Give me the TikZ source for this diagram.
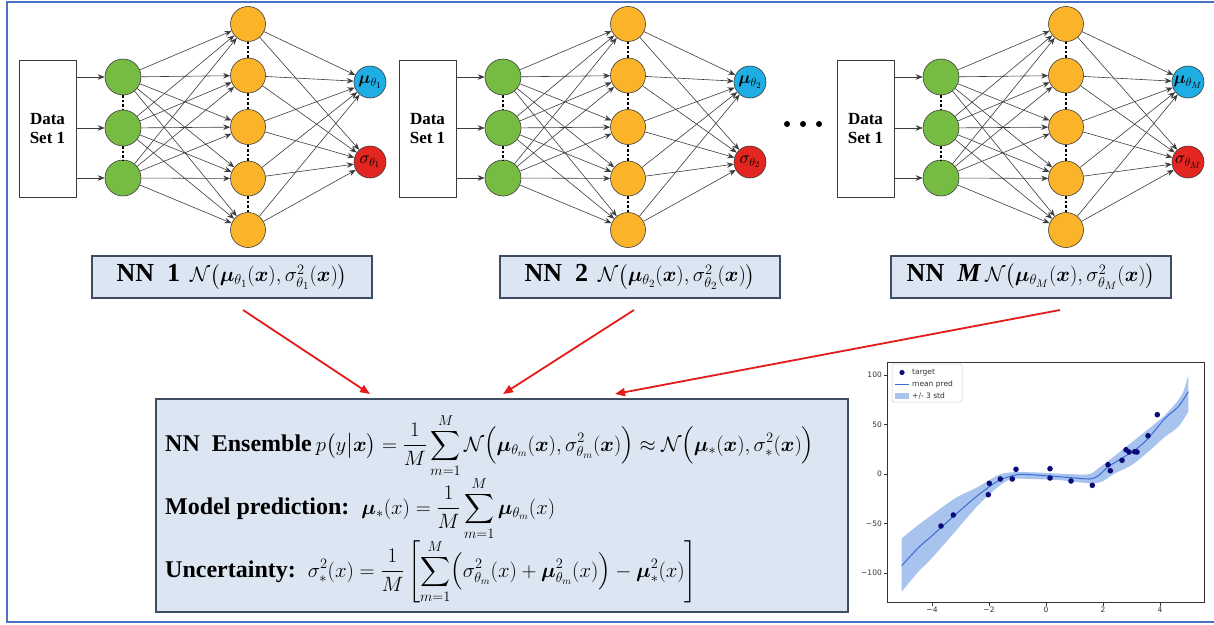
\documentclass[tikz,border=0pt]{standalone}
\usepackage{amsmath,bm}
\usepackage{fontspec}
\setmainfont{Liberation Serif}
\setsansfont{DejaVu Sans}
\usetikzlibrary{arrows.meta}
\definecolor{gfill}{HTML}{76BC43}
\definecolor{ofill}{HTML}{FBB42A}
\definecolor{bfill}{HTML}{1FAEE3}
\definecolor{rfill}{HTML}{E3261F}
\definecolor{boxfill}{HTML}{DCE6F2}
\definecolor{boxline}{HTML}{3F4D63}
\definecolor{frameblue}{HTML}{4A72C4}
\definecolor{edgec}{HTML}{3C3C3C}
\definecolor{navyc}{HTML}{0B0B78}
\definecolor{bandc}{HTML}{A8C3EE}
\definecolor{meanc}{HTML}{3B6BD6}
\definecolor{redarrow}{HTML}{E31B1B}
\definecolor{tickc}{HTML}{333333}
\tikzset{
  neuron/.style={circle, draw=edgec, line width=0.6pt, minimum size=35pt, inner sep=0pt},
  conn/.style={draw=edgec, line width=0.6pt, -{Stealth[length=7pt,width=5.5pt]}},
  dotcol/.style={line width=2.6pt, dash pattern=on 2.6pt off 1.8pt},
  databox/.style={draw=edgec, fill=white, line width=0.8pt, minimum width=57pt, minimum height=137pt, inner sep=0pt, font=\fontsize{17}{19}\selectfont\bfseries, align=center},
  nnbox/.style={draw=boxline, fill=boxfill, line width=1.2pt, minimum width=280pt, minimum height=42pt, inner sep=0pt},
  redarr/.style={draw=redarrow, line width=1.8pt, -{Triangle[length=10pt,width=8pt]}},
  outlbl/.style={font=\fontsize{18}{18}\selectfont},
  ticklbl/.style={font=\sffamily\fontsize{7.5}{8}\selectfont, text=tickc, inner sep=1pt},
  eqline/.style={anchor=base west, inner sep=0pt, font=\fontsize{24}{26}\selectfont},
}
\newcommand\eqm[1]{{\fontsize{20}{22}\selectfont$\displaystyle #1$}}
\newcommand\nnm[1]{{\fontsize{22}{24}\selectfont$#1$}}
\newcommand\drawnet[3]{%
  \begin{scope}[xshift=#2pt]
    \node[databox] (#1d) at (47.5,128.5) {Data\\Set 1};
    \foreach \i/\yy in {1/77,2/128,3/178}
      \node[neuron, fill=gfill, minimum size=36pt] (#1g\i) at (123,\yy) {};
    \foreach \j/\yy in {1/24,2/75.5,3/127,4/178.5,5/230}
      \node[neuron, fill=ofill] (#1h\j) at (248,\yy) {};
    \node[neuron, fill=bfill, minimum size=32pt, outlbl] (#1mu) at (370,82) {$\boldsymbol{\mu}_{\theta_{#3}}$};
    \node[neuron, fill=rfill, minimum size=32pt, outlbl] (#1sg) at (370,162) {$\sigma_{\theta_{#3}}$};
  \end{scope}
  \foreach \i in {1,2,3} \draw[conn] (#1d.east |- #1g\i) -- (#1g\i.west);
  \foreach \i in {1,2,3} \foreach \j in {1,...,5} \draw[conn] (#1g\i) -- (#1h\j);
  \foreach \j in {1,...,5} {\draw[conn] (#1h\j) -- (#1mu); \draw[conn] (#1h\j) -- (#1sg);}
  \draw[dotcol] (#1g1.south) -- (#1g2.north);
  \draw[dotcol] (#1g2.south) -- (#1g3.north);
  \draw[dotcol] (#1h1.south) -- (#1h2.north);
  \draw[dotcol] (#1h2.south) -- (#1h3.north);
  \draw[dotcol] (#1h3.south) -- (#1h4.north);
  \draw[dotcol] (#1h4.south) -- (#1h5.north);
}
\begin{document}
\begin{tikzpicture}[x=1pt, y=-1pt]
\useasboundingbox (0,0) rectangle (1214,624);
\fill[white] (0,0) rectangle (1214,624);
% networks
\drawnet{a}{0}{1}
\drawnet{b}{380}{2}
\drawnet{c}{818}{M}
% ellipsis dots
\foreach \xx in {787,803,819} \fill (\xx,124) circle (3pt);
% NN boxes
\node[nnbox] (nn1) at (232,277) {{\fontsize{26}{28}\selectfont\bfseries NN\enspace 1}\quad\nnm{\mathcal{N}\bigl(\boldsymbol{\mu}_{\theta_1}(\boldsymbol{x}),\sigma^2_{\theta_1}(\boldsymbol{x})\bigr)}};
\node[nnbox] (nn2) at (640,277) {{\fontsize{26}{28}\selectfont\bfseries NN\enspace 2}\quad\nnm{\mathcal{N}\bigl(\boldsymbol{\mu}_{\theta_2}(\boldsymbol{x}),\sigma^2_{\theta_2}(\boldsymbol{x})\bigr)}};
\node[nnbox] (nnM) at (1031,277) {{\fontsize{26}{28}\selectfont\bfseries NN\enspace\itshape M}\enspace\nnm{\mathcal{N}\bigl(\boldsymbol{\mu}_{\theta_M}(\boldsymbol{x}),\sigma^2_{\theta_M}(\boldsymbol{x})\bigr)}};
% ensemble box
\node[draw=boxline, fill=boxfill, line width=1.2pt, minimum width=692pt, minimum height=213pt, inner sep=0pt] (ens) at (502,505.5) {};
\node[eqline] (l1) at (165,451) {\textbf{NN\enspace Ensemble}\,\eqm{p\bigl(y\big|\boldsymbol{x}\bigr)=\frac{1}{M}\sum_{m=1}^{M}\mathcal{N}\Bigl(\boldsymbol{\mu}_{\theta_m}(\boldsymbol{x}),\sigma^2_{\theta_m}(\boldsymbol{x})\Bigr)\approx\mathcal{N}\Bigl(\boldsymbol{\mu}_{*}(\boldsymbol{x}),\sigma^2_{*}(\boldsymbol{x})\Bigr)}};
\node[eqline] (l2) at (165,514) {\textbf{Model prediction:}\enspace\eqm{\boldsymbol{\mu}_*(x)=\frac{1}{M}\sum_{m=1}^{M}\boldsymbol{\mu}_{\theta_m}(x)}};
\node[eqline] (l3) at (165,577) {\textbf{Uncertainty:}\enspace\eqm{\sigma^2_*(x)=\frac{1}{M}\left[\sum_{m=1}^{M}\Bigl(\sigma^2_{\theta_m}(x)+\boldsymbol{\mu}^2_{\theta_m}(x)\Bigr)-\boldsymbol{\mu}^2_*(x)\right]}};
% red arrows
\coordinate (s1) at (243,310); \coordinate (t1) at (370,394);
\coordinate (s2) at (634,310); \coordinate (t2) at (503,394);
\coordinate (s3) at (1060,310); \coordinate (t3) at (615,394);
\draw[redarr] (s1) -- (t1);
\draw[redarr] (s2) -- (t2);
\draw[redarr] (s3) -- (t3);
% plot
\fill[bandc] plot[smooth] coordinates {(901.7,538.3) (918.3,525) (931.7,515) (955,498.3) (978.3,486.7) (998.3,475) (1011.7,472.3) (1031.7,472.3) (1061.7,473.7) (1088.3,474.3) (1098.3,468.3) (1111.7,458.3) (1128.3,445) (1145,431.7) (1165,415) (1181.7,395) (1188.3,375)}
  -- plot[smooth] coordinates {(1188.3,411.7) (1178.3,426.7) (1165,436.7) (1148.3,451.7) (1131.7,465) (1115,473.3) (1101.7,481.7) (1090,483.3) (1061.7,480.3) (1031.7,479) (1011.7,479) (998.3,486.7) (978.3,505) (955,531.7) (931.7,558.3) (918.3,571.7) (901.7,591.7)} -- cycle;
\draw[meanc, line width=1pt] plot[smooth] coordinates {(901.7,565.7) (918.3,547.7) (931.7,536.0) (955.0,515.0) (978.3,495.0) (998.3,480.7) (1011.7,476.0) (1021.7,474.3) (1045.0,475.7) (1071.7,477.7) (1090.0,479.0) (1098.3,475.7) (1108.3,466.7) (1121.7,458.3) (1135.0,450.0) (1148.3,438.3) (1165.0,418.3) (1178.3,406.7) (1188.3,391.7)};
\foreach \xx/\yy in {941/526, 953.3/515, 989.3/483.3, 988.3/494.7, 1000.3/479, 1012.3/479, 1016/469.3, 1050/468.7, 1050/478, 1071/481, 1092.3/485.3, 1108/464.7, 1110.3/470.7, 1122/460.3, 1126/449.7, 1129/452, 1134.7/451.7, 1137/452, 1148/435.7, 1157.3/414.7}
  \fill[navyc] (\xx,\yy) circle (2.8pt);
\draw[tickc, line width=0.8pt] (887,362) rectangle (1204,602);
\foreach \yy/\lab in {375/100, 424.5/50, 474/0, 523.5/−50, 573/−100} {
  \draw[tickc, line width=0.6pt] (887,\yy) -- (883.5,\yy);
  \node[ticklbl, anchor=east] at (883,\yy) {\lab};
}
\foreach \xx/\lab in {932/−4, 989/−2, 1046/0, 1103/2, 1160/4} {
  \draw[tickc, line width=0.6pt] (\xx,602) -- (\xx,605.5);
  \node[ticklbl, anchor=north] at (\xx,606) {\lab};
}
\draw[gray!40, fill=white, line width=0.5pt, rounded corners=2pt] (892,364) rectangle (962,402);
\fill[navyc] (902,372.5) circle (2.6pt);
\node[ticklbl, anchor=west] at (911,372.5) {target};
\draw[meanc, line width=1pt] (895,384.5) -- (909,384.5);
\node[ticklbl, anchor=west] at (911,384.5) {mean pred};
\fill[bandc] (895,393) rectangle (909,399);
\node[ticklbl, anchor=west] at (911,396) {+/- 3 std};
% outer frame
\draw[frameblue, line width=2pt] (7,2) rectangle (1220,622);
\end{tikzpicture}
\end{document}
